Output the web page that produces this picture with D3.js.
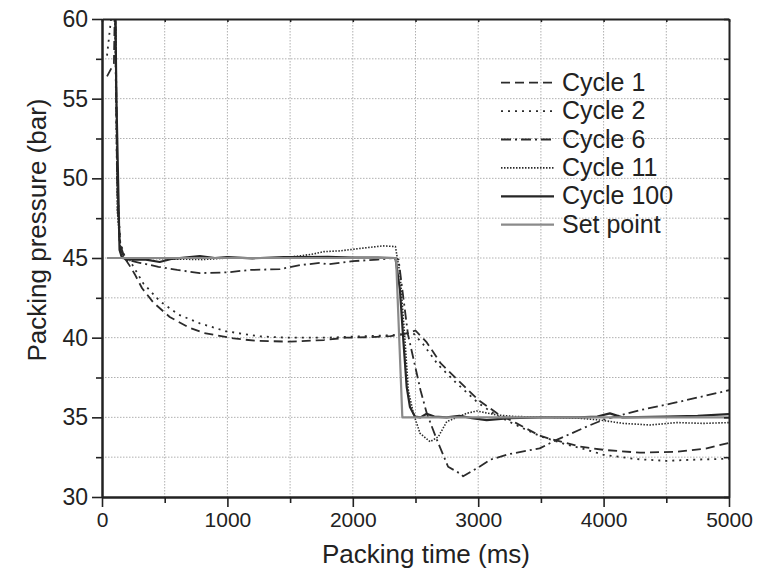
<!DOCTYPE html>
<html>
<head>
<meta charset="utf-8">
<script src="https://cdn.jsdelivr.net/npm/d3@7/dist/d3.min.js"></script>
<style>
  html, body { margin: 0; padding: 0; background: #fff; }
  svg { display: block; font-family: "Liberation Sans", Arial, sans-serif; }
</style>
</head>
<body>
<svg id="chart" width="757" height="571"></svg>
<script>
// ---- Data (time in ms, pressure in bar) ----
const cycle1T = [40, 95, 105, 120, 140, 180, 230, 260, 320, 410, 540, 690, 810, 1050, 1230, 1500, 1770, 1950, 2140, 2300, 2400, 2500, 2590, 2700, 2830, 3000, 3150, 3307, 3490, 3559, 3812, 4011, 4290, 4583, 4822, 5000];
const cycle1V = [56.4, 57.2, 62, 50, 46, 45, 44.4, 44.0, 43.1, 42.2, 41.3, 40.65, 40.3, 39.95, 39.8, 39.75, 39.85, 40.0, 40.03, 40.1, 40.2, 40.45, 39.7, 38.4, 37.4, 36.1, 35.25, 34.62, 33.85, 33.68, 33.16, 32.95, 32.78, 32.84, 33.05, 33.4];

const cycle2T = [40, 100, 120, 145, 185, 240, 330, 460, 610, 780, 990, 1260, 1470, 1800, 2100, 2300, 2420, 2480, 2560, 2680, 2820, 3000, 3150, 3320, 3500, 3700, 3850, 4000, 4260, 4500, 4750, 5000];
const cycle2V = [57.7, 62, 50, 46, 45, 44.6, 43.4, 42.3, 41.45, 40.9, 40.4, 40.08, 40.0, 40.0, 40.1, 40.15, 40.25, 40.3, 39.6, 38.3, 37.2, 35.9, 35.1, 34.45, 33.8, 33.3, 33.0, 32.65, 32.38, 32.27, 32.35, 32.4];

const cycle6T = [105, 125, 150, 185, 300, 450, 600, 780, 1000, 1180, 1420, 1580, 1740, 1800, 2000, 2200, 2320, 2365, 2440, 2540, 2590, 2670, 2760, 2860, 2880, 3010, 3100, 3250, 3490, 3630, 3890, 4000, 4290, 4560, 5000];
const cycle6V = [62, 48, 45.5, 44.9, 44.7, 44.45, 44.25, 44.05, 44.1, 44.25, 44.3, 44.55, 44.7, 44.6, 44.8, 44.9, 45.0, 44.9, 40.2, 36.7, 35.25, 33.6, 31.9, 31.45, 31.3, 31.9, 32.35, 32.7, 33.05, 33.6, 34.5, 34.85, 35.45, 35.9, 36.7];

const cycle11T = [105, 122, 150, 200, 300, 500, 800, 1000, 1200, 1420, 1600, 1690, 1770, 1900, 2080, 2240, 2340, 2355, 2376, 2416, 2443, 2483, 2536, 2616, 2682, 2749, 2908, 2988, 3147, 3300, 3600, 3800, 3971, 4157, 4370, 4583, 4795, 5000];
const cycle11V = [62, 48, 45.2, 44.8, 45.0, 44.95, 44.9, 45.0, 45.0, 45.0, 45.15, 45.26, 45.4, 45.45, 45.62, 45.76, 45.72, 45.0, 44.05, 39.85, 36.7, 35.25, 34.0, 33.47, 33.78, 34.73, 35.25, 35.4, 35.15, 35.05, 35.0, 34.95, 34.83, 34.62, 34.52, 34.67, 34.62, 34.67];

const cycle100T = [104, 115, 140, 160, 250, 350, 460, 560, 780, 900, 1000, 1200, 1450, 1600, 1800, 2000, 2200, 2340, 2376, 2403, 2430, 2456, 2496, 2540, 2589, 2650, 2749, 2850, 2950, 3067, 3250, 3500, 3800, 3950, 4050, 4150, 4500, 4750, 5000];
const cycle100V = [62, 55, 45.5, 45.0, 44.9, 44.9, 44.75, 44.95, 45.12, 45.0, 45.05, 44.98, 45.05, 45.05, 45.08, 45.02, 45.03, 45.0, 43.0, 39.85, 36.9, 35.65, 35.04, 35.0, 35.22, 35.05, 35.0, 35.1, 34.95, 34.83, 34.95, 35.0, 35.0, 35.05, 35.25, 35.0, 35.05, 35.1, 35.2];

const setPointT = [40, 2345, 2395, 5000];
const setPointV = [45, 45, 35, 35];

const seriesNames = ["Cycle 1", "Cycle 2", "Cycle 6", "Cycle 11", "Cycle 100", "Set point"];
const xTickValues = [0, 1000, 2000, 3000, 4000, 5000];
const xMinorTicks = [500, 1500, 2500, 3500, 4500];
const yTickValues = [30, 35, 40, 45, 50, 55, 60];
const yMinorTicks = [32.5, 37.5, 42.5, 47.5, 52.5, 57.5];
const xTitle = "Packing time (ms)";
const yTitle = "Packing pressure (bar)";

// ---- Styles ----
const styles = [
  { color: "#2b2b2b", width: 1.8, dash: "9,5" },
  { color: "#2b2b2b", width: 1.8, dash: "2,5" },
  { color: "#2b2b2b", width: 1.8, dash: "10,4,2,4" },
  { color: "#2b2b2b", width: 1.6, dash: "1.5,1.5" },
  { color: "#262626", width: 2.2, dash: null },
  { color: "#8a8a8a", width: 2.2, dash: null }
];

const svg = d3.select("#chart");
const pLeft = 102, pRight = 729, pTop = 19, pBottom = 497;
const x = d3.scaleLinear().domain([0, 5000]).range([pLeft, pRight]);
const y = d3.scaleLinear().domain([30, 60]).range([pBottom, pTop]);

// grid
const grid = svg.append("g").attr("stroke", "#b0b0b0").attr("stroke-width", 1).attr("stroke-dasharray", "1.5,1.5");
d3.range(500, 5000, 500).forEach(v => {
  grid.append("line").attr("x1", x(v)).attr("x2", x(v)).attr("y1", pTop).attr("y2", pBottom);
});
d3.range(32.5, 60, 2.5).forEach(v => {
  grid.append("line").attr("x1", pLeft).attr("x2", pRight).attr("y1", y(v)).attr("y2", y(v));
});

// clip
svg.append("clipPath").attr("id", "clip").append("rect")
  .attr("x", pLeft).attr("y", pTop).attr("width", pRight - pLeft).attr("height", pBottom - pTop);

const series = [
  [cycle1T, cycle1V], [cycle2T, cycle2V], [cycle6T, cycle6V],
  [cycle11T, cycle11V], [cycle100T, cycle100V], [setPointT, setPointV]
];
const line = d3.line().x(d => x(d[0])).y(d => y(d[1]));
const plot = svg.append("g").attr("clip-path", "url(#clip)");
series.forEach((s, i) => {
  const pts = s[0].map((t, j) => [t, s[1][j]]);
  const st = styles[i];
  plot.append("path").datum(pts)
    .attr("d", line)
    .attr("fill", "none")
    .attr("stroke", st.color)
    .attr("stroke-width", st.width)
    .attr("stroke-linejoin", "round")
    .attr("stroke-dasharray", st.dash);
});

// axes
const axisColor = "#222";
function styleAxis(g, fontSize) {
  g.select(".domain").attr("stroke", axisColor).attr("stroke-width", 2);
  g.selectAll(".tick line").attr("stroke", axisColor).attr("stroke-width", 1.6);
  g.selectAll(".tick text").attr("fill", "#222").style("font-size", fontSize + "px")
    .style("font-family", "'Liberation Sans', Arial, sans-serif");
}
const xAxis = svg.append("g").attr("transform", `translate(0,${pBottom})`)
  .call(d3.axisBottom(x).tickValues(xTickValues).tickFormat(d3.format("d")).tickSize(10).tickPadding(5).tickSizeOuter(0));
styleAxis(xAxis, 21);
const xMinor = svg.append("g").attr("transform", `translate(0,${pBottom})`)
  .call(d3.axisBottom(x).tickValues(xMinorTicks).tickSize(6).tickFormat("").tickSizeOuter(0));
styleAxis(xMinor, 21);

const yAxis = svg.append("g").attr("transform", `translate(${pLeft},0)`)
  .call(d3.axisLeft(y).tickValues(yTickValues).tickFormat(d3.format("d")).tickSize(10).tickPadding(4).tickSizeOuter(0));
styleAxis(yAxis, 23);
const yMinor = svg.append("g").attr("transform", `translate(${pLeft},0)`)
  .call(d3.axisLeft(y).tickValues(yMinorTicks).tickSize(6).tickFormat("").tickSizeOuter(0));
styleAxis(yMinor, 23);

const xTopAxis = svg.append("g").attr("transform", `translate(0,${pTop})`)
  .call(d3.axisTop(x).tickValues(xTickValues.concat(xMinorTicks)).tickSize(-3).tickFormat("").tickSizeOuter(0));
styleAxis(xTopAxis, 21);
const yRightAxis = svg.append("g").attr("transform", `translate(${pRight},0)`)
  .call(d3.axisRight(y).tickValues(yTickValues.concat(yMinorTicks)).tickSize(-5).tickFormat("").tickSizeOuter(0));
styleAxis(yRightAxis, 21);

// titles
svg.append("text").attr("x", 426).attr("y", 563).attr("text-anchor", "middle")
  .style("font-size", "26px").attr("fill", "#222").text(xTitle);
svg.append("text").attr("transform", "translate(46,230) rotate(-90)").attr("text-anchor", "middle")
  .style("font-size", "26px").attr("fill", "#222").text(yTitle);

// legend
const legend = svg.append("g");
seriesNames.forEach((name, i) => {
  const by = 90.7 + i * 28.4;
  const st = styles[i];
  legend.append("line").attr("x1", 501).attr("x2", 554).attr("y1", by - 8).attr("y2", by - 8)
    .attr("stroke", st.color).attr("stroke-width", st.width).attr("stroke-dasharray", st.dash);
  legend.append("text").attr("x", 562).attr("y", by).style("font-size", "25px").attr("fill", "#222").text(name);
});
</script>
</body>
</html>
